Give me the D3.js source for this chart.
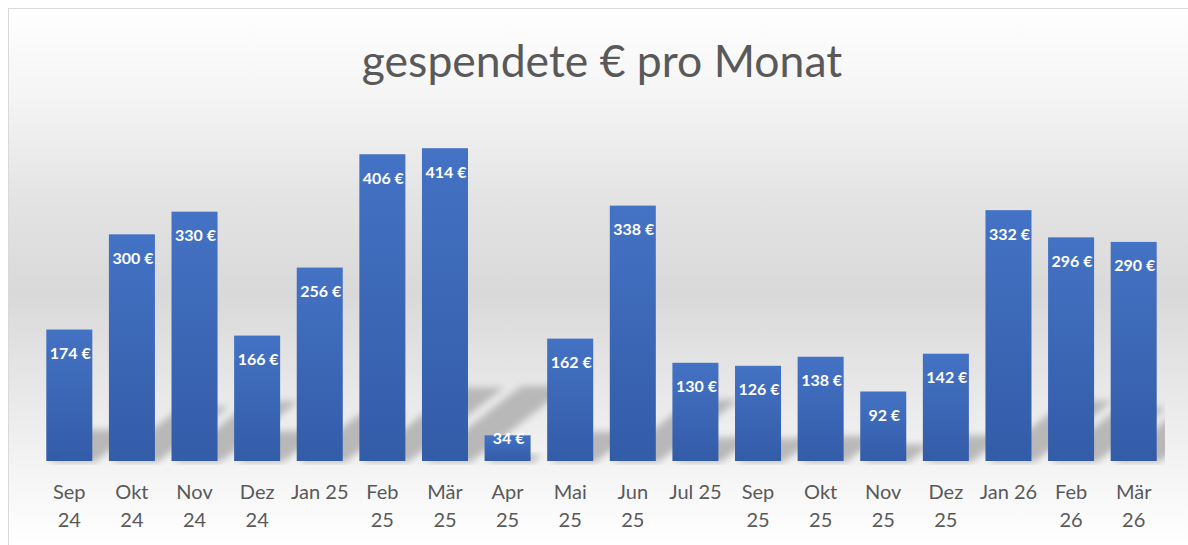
<!DOCTYPE html>
<html>
<head>
<meta charset="utf-8">
<script src="https://cdn.jsdelivr.net/npm/d3@7"></script>
<style>
  html, body { margin: 0; padding: 0; background: #fff; }
  svg { display: block; }
</style>
</head>
<body>
<svg id="chart"></svg>
<script>
const title = 'gespendete € pro Monat';
const months = ['Sep 24', 'Okt 24', 'Nov 24', 'Dez 24', 'Jan 25', 'Feb 25', 'Mär 25', 'Apr 25', 'Mai 25',
  'Jun 25', 'Jul 25', 'Sep 25', 'Okt 25', 'Nov 25', 'Dez 25', 'Jan 26', 'Feb 26', 'Mär 26'];
const tickLines = [['Sep', '24'], ['Okt', '24'], ['Nov', '24'], ['Dez', '24'], ['Jan 25'], ['Feb', '25'],
  ['Mär', '25'], ['Apr', '25'], ['Mai', '25'], ['Jun', '25'], ['Jul 25'], ['Sep', '25'], ['Okt', '25'],
  ['Nov', '25'], ['Dez', '25'], ['Jan 26'], ['Feb', '26'], ['Mär', '26']];
const spent = [174, 300, 330, 166, 256, 406, 414, 34, 162, 338, 130, 126, 138, 92, 142, 332, 296, 290];

const width = 1188;
const height = 545;
const baseY = 461;
const font = 'Lato, "Open Sans", sans-serif';

const svg = d3.select('#chart').attr('width', width).attr('height', height);
const defs = svg.append('defs');

// chart area background
const bg = defs.append('linearGradient').attr('id', 'bg')
  .attr('gradientUnits', 'userSpaceOnUse').attr('x1', 0).attr('y1', 8).attr('x2', 0).attr('y2', height);
[[0, '#ffffff'], [0.17, '#f4f4f4'], [0.36, '#e3e3e3'], [0.53, '#d9d9d9'], [0.69, '#e6e6e6'],
  [0.845, '#f3f3f3'], [1, '#ffffff']].forEach(([o, c]) => {
  bg.append('stop').attr('offset', o).attr('stop-color', c);
});

const barFill = defs.append('linearGradient').attr('id', 'barFill')
  .attr('x1', 0).attr('y1', 0).attr('x2', 0).attr('y2', 1);
barFill.append('stop').attr('offset', 0).attr('stop-color', '#4472c4');
barFill.append('stop').attr('offset', 1).attr('stop-color', '#335ca8');

defs.append('filter').attr('id', 'blur').attr('x', '-30%').attr('y', '-30%').attr('width', '160%').attr('height', '160%')
  .append('feGaussianBlur').attr('stdDeviation', 3.5);

defs.append('clipPath').attr('id', 'plotClip')
  .append('rect').attr('x', 38).attr('y', 100).attr('width', 1127).attr('height', baseY - 100 + 4);

svg.append('rect').attr('x', 8.5).attr('y', 8.5).attr('width', width).attr('height', height)
  .attr('fill', 'url(#bg)').attr('stroke', '#d9d9d9').attr('stroke-width', 1);

svg.append('text')
  .attr('x', 602).attr('y', 77)
  .attr('text-anchor', 'middle')
  .attr('font-family', font).attr('font-size', 44.5).attr('fill', '#595959')
  .text(title);

const x = d3.scaleBand().domain(months).range([38, 1165]).paddingInner(0.265).paddingOuter(0.1325);
const y = d3.scaleLinear().domain([0, 450]).range([baseY, 121]);

// soft skewed shadows behind the bars
const shadowG = svg.append('g').attr('clip-path', 'url(#plotClip)');
shadowG.selectAll('path').data(months).enter().append('path')
  .attr('fill', '#b8b8b8')
  .attr('filter', 'url(#blur)')
  .attr('d', (d, i) => {
    const x0 = x(d) + 2, x1 = x(d) + x.bandwidth() + 3;
    const sh = (baseY - y(spent[i])) * 0.24;
    const dx = sh * 1.3;
    return `M${x0},${baseY + 1}L${x1},${baseY + 1}L${x1 + dx},${baseY - sh}L${x0 + dx},${baseY - sh}Z`;
  });

svg.append('g').selectAll('rect').data(months).enter().append('rect')
  .attr('x', d => x(d))
  .attr('y', (d, i) => y(spent[i]))
  .attr('width', x.bandwidth())
  .attr('height', (d, i) => baseY - y(spent[i]))
  .attr('fill', 'url(#barFill)');

svg.append('g').selectAll('text').data(months).enter().append('text')
  .attr('x', d => x(d) + x.bandwidth() / 2 + 1)
  .attr('y', (d, i) => Math.min(y(spent[i]) + 24, baseY - 23))
  .attr('dy', '0.35em')
  .attr('text-anchor', 'middle')
  .attr('font-family', font).attr('font-size', 16).attr('font-weight', 'bold').attr('fill', '#fff')
  .text((d, i) => `${spent[i]} €`);

const xAxis = d3.axisBottom(x).tickSize(0).tickPadding(0).tickFormat('');
const axisG = svg.append('g').attr('transform', `translate(0,${baseY})`).call(xAxis);
axisG.select('.domain').remove();
axisG.selectAll('.tick').each(function (d, i) {
  const t = d3.select(this).append('text')
    .attr('font-family', font).attr('font-size', 20).attr('fill', '#595959')
    .attr('text-anchor', 'middle');
  tickLines[i].forEach((line, j) => {
    t.append('tspan').attr('x', 0).attr('y', 38 + j * 28).text(line);
  });
});
</script>
</body>
</html>
